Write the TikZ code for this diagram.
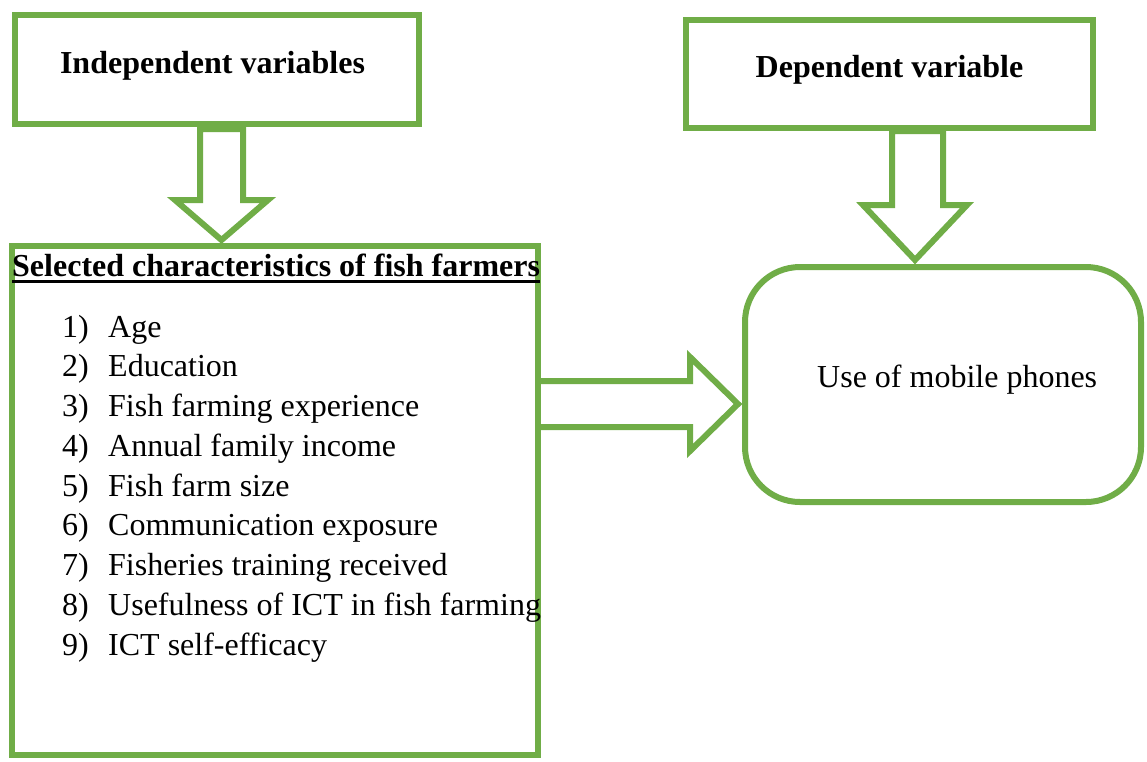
\documentclass[tikz,border=0pt]{standalone}
\usepackage{fontspec}
\setmainfont{Liberation Serif}
\usetikzlibrary{calc}
\definecolor{fgreen}{HTML}{70AD47}
\tikzset{
  gbox/.style={draw=fgreen, line width=6pt, fill=white, rectangle, inner sep=0pt},
  blockarrow/.style={draw=fgreen, line width=6pt, fill=white, line join=miter},
  txt/.style={inner sep=0pt, font=\fontsize{32}{38}\selectfont},
  btxt/.style={inner sep=0pt, font=\fontsize{32}{38}\selectfont\bfseries},
}
\begin{document}
\begin{tikzpicture}[x=1pt,y=-1pt]
\useasboundingbox (0,0) rectangle (1147,761);
% boxes
\node[gbox, minimum width=404pt, minimum height=109pt] (ind) at (217,69.5) {};
\node[gbox, minimum width=407pt, minimum height=108pt] (dep) at (889.5,74) {};
\node[gbox, minimum width=526pt, minimum height=509pt] (sel) at (275,500.5) {};
\node[gbox, rounded corners=55pt, minimum width=396pt, minimum height=235pt] (use) at (943,384.5) {};
% texts
\node[btxt, anchor=base] (indt) at (212.5,73) {Independent variables};
\node[btxt, anchor=base] (dept) at (889.5,77) {Dependent variable};
\node[txt, anchor=base west] (uset) at (817,387) {Use of mobile phones};
\node[btxt, anchor=base west] (head) at (12,276) {Selected characteristics of fish farmers};
\draw[line width=3pt] ($(head.base west)+(0,5.5)$) -- ($(head.base east)+(0,5.5)$);
\foreach \i/\t in {1/Age,2/Education,3/Fish farming experience,4/Annual family income,5/Fish farm size,6/Communication exposure,7/Fisheries training received,8/Usefulness of ICT in fish farming,9/ICT self-efficacy}{
  \node[txt, anchor=base west] (n\i) at (62,{337+(\i-1)*39.75}) {\i)};
  \node[txt, anchor=base west] (t\i) at (108,{337+(\i-1)*39.75}) {\t};
}
% block arrow: independent -> selected
\coordinate (aL) at (200,200);
\coordinate (aR) at (243,200);
\coordinate (aWl) at (175,200);
\coordinate (aWr) at (268,200);
\coordinate (aT) at (221.5,0);
\draw[blockarrow] ($(aL |- ind.south)+(0,2)$) -- ($(aR |- ind.south)+(0,2)$) -- (aR) -- (aWr) -- ($(aT |- sel.north)+(0,-3)$) -- (aWl) -- (aL) -- cycle;
% block arrow: dependent -> use
\coordinate (bL) at (892,205);
\coordinate (bR) at (943,205);
\coordinate (bWl) at (863,205);
\coordinate (bWr) at (967,205);
\coordinate (bT) at (915,0);
\draw[blockarrow] (bL |- dep.south) -- (bR |- dep.south) -- (bR) -- (bWr) -- ($(bT |- use.north)+(0,-4)$) -- (bWl) -- (bL) -- cycle;
% block arrow: selected -> use
\coordinate (cT) at (690,381);
\coordinate (cB) at (690,427);
\coordinate (cWt) at (690,357);
\coordinate (cWb) at (690,451);
\coordinate (cP) at (0,404);
\draw[blockarrow] (cT -| sel.east) -- (cT) -- (cWt) -- ($(cP -| use.west)+(-4,0)$) -- (cWb) -- (cB) -- (cB -| sel.east);
\end{tikzpicture}
\end{document}
